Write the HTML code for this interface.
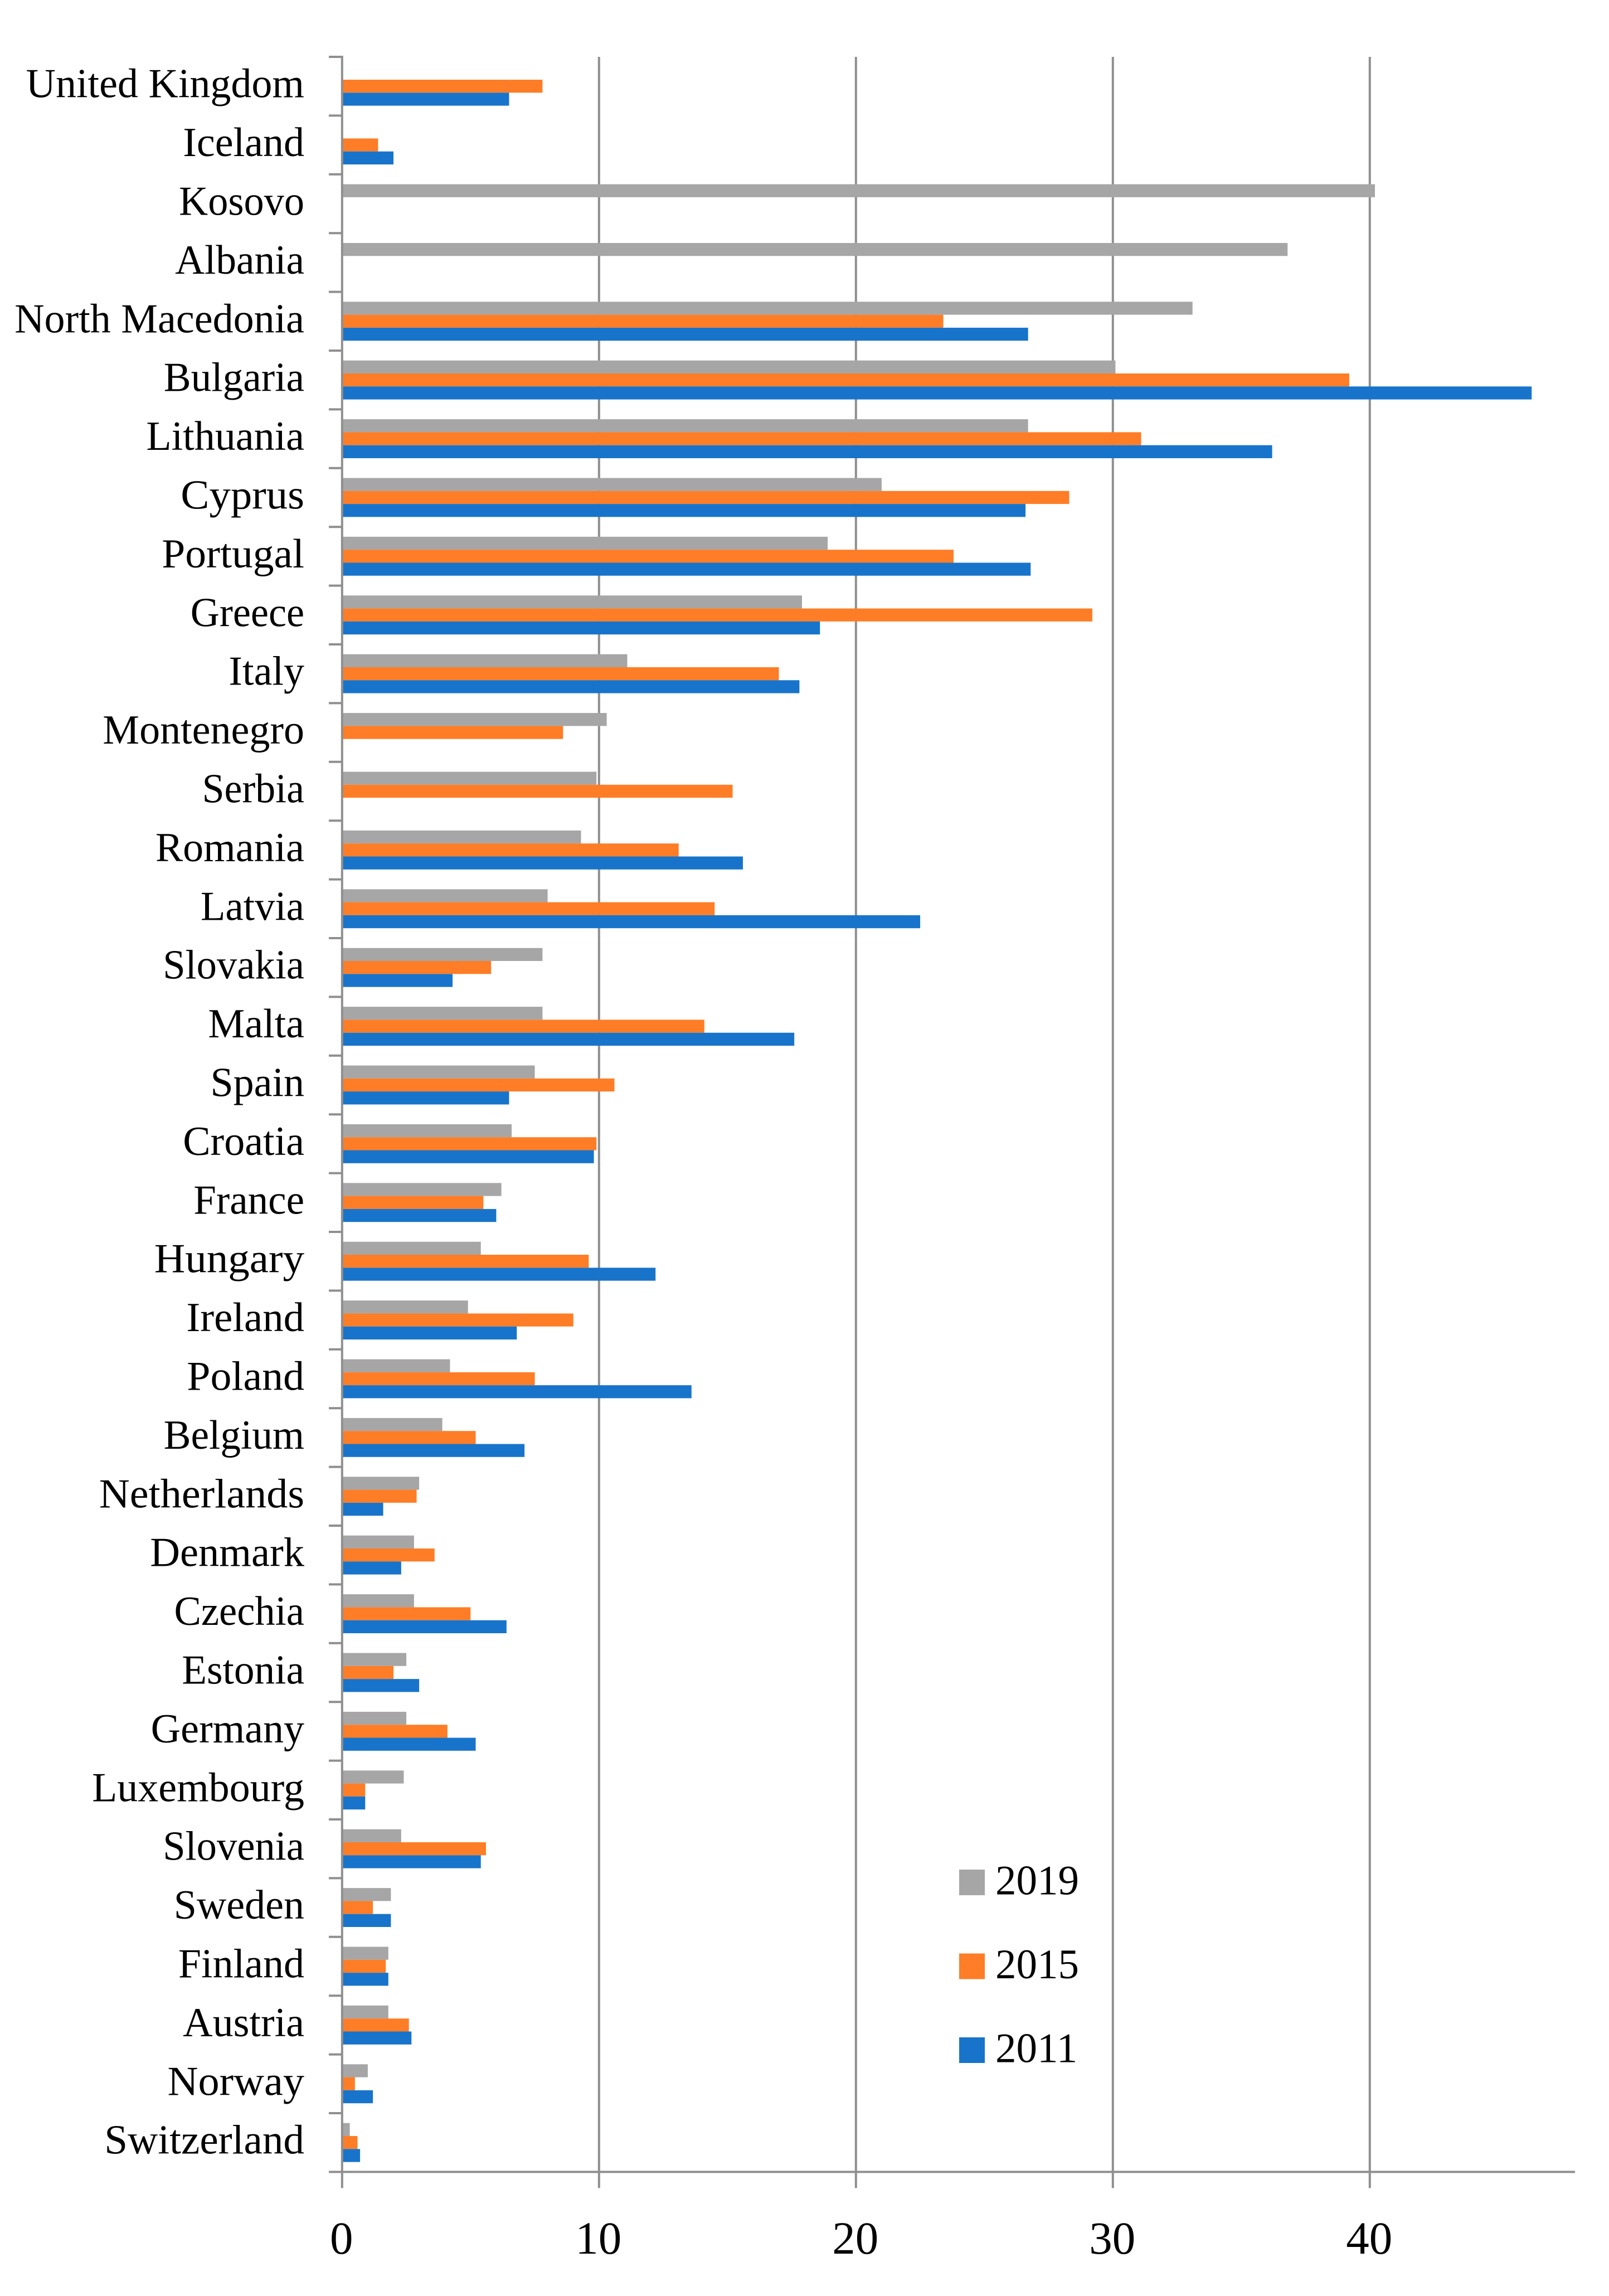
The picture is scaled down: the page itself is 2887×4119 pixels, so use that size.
<!DOCTYPE html>
<html lang="en">
<head>
<meta charset="utf-8">
<title>Country bar chart 2011, 2015, 2019</title>
<style>
html,body{margin:0;padding:0;background:#fff;}
svg{display:block;}
text{font-family:"Liberation Serif",serif;fill:#000;}
</style>
</head>
<body>
<svg id="chart" xmlns="http://www.w3.org/2000/svg" width="2887" height="4119" viewBox="0 0 2887 4119">
<rect x="0" y="0" width="2887" height="4119" fill="#ffffff"/>
<g id="grid"></g>
<g id="bars"></g>
<g id="axes"></g>
<g id="labels"></g>
<g id="xlabels"></g>
<g id="legend"></g>
</svg>
<script>
const categories = ["United Kingdom","Iceland","Kosovo","Albania","North Macedonia","Bulgaria","Lithuania","Cyprus","Portugal","Greece","Italy","Montenegro","Serbia","Romania","Latvia","Slovakia","Malta","Spain","Croatia","France","Hungary","Ireland","Poland","Belgium","Netherlands","Denmark","Czechia","Estonia","Germany","Luxembourg","Slovenia","Sweden","Finland","Austria","Norway","Switzerland"];
const values2019 = [null,null,40.2,36.8,33.1,30.1,26.7,21.0,18.9,17.9,11.1,10.3,9.9,9.3,8.0,7.8,7.8,7.5,6.6,6.2,5.4,4.9,4.2,3.9,3.0,2.8,2.8,2.5,2.5,2.4,2.3,1.9,1.8,1.8,1.0,0.3];
const values2015 = [7.8,1.4,null,null,23.4,39.2,31.1,28.3,23.8,29.2,17.0,8.6,15.2,13.1,14.5,5.8,14.1,10.6,9.9,5.5,9.6,9.0,7.5,5.2,2.9,3.6,5.0,2.0,4.1,0.9,5.6,1.2,1.7,2.6,0.5,0.6];
const values2011 = [6.5,2.0,null,null,26.7,46.3,36.2,26.6,26.8,18.6,17.8,null,null,15.6,22.5,4.3,17.6,6.5,9.8,6.0,12.2,6.8,13.6,7.1,1.6,2.3,6.4,3.0,5.2,0.9,5.4,1.9,1.8,2.7,1.2,0.7];
const seriesNames = ["2019","2015","2011"];
const seriesColors = ["#A6A6A6","#FE7D26","#1874CA"];
const tickLabels = [0,10,20,30,40];

const NS = "http://www.w3.org/2000/svg";
const X0 = 613.8, UNIT = 46.1, PLOT_TOP = 102, BAND = 105.4, PLOT_RIGHT = 2826;
const PLOT_BOTTOM = PLOT_TOP + BAND * categories.length;
const BAR_H = 23.3, BAR_PAD = 17.7;
const AXIS_COLOR = "#8F8F8F";
const xScale = v => X0 + v * UNIT;
const bandTop = i => PLOT_TOP + i * BAND;

// Font-substitution fit: horizontal stretch per label so widths match the original typeface.
const labelFit = {"Kosovo":.977,"Albania":.99,"Bulgaria":.99,"Cyprus":1.037,"Portugal":1.02,"Greece":.975,"Serbia":.97,"Latvia":.985,"Slovakia":.98,"France":.987,"Hungary":1.04,"Ireland":1.01,"Poland":1.025,"Belgium":.99,"Netherlands":1.03,"Denmark":1.005,"Czechia":.98,"Estonia":.99,"Slovenia":.98,"Norway":1.03,"Switzerland":1.015};

function make(tag, attrs, parent) {
  const el = document.createElementNS(NS, tag);
  for (const k in attrs) el.setAttribute(k, attrs[k]);
  parent.appendChild(el);
  return el;
}

const grid = document.getElementById("grid");
tickLabels.forEach(t => {
  if (t === 0) return;
  const line = make("line", {x1:xScale(t), x2:xScale(t), y1:PLOT_TOP, y2:PLOT_BOTTOM + 29, stroke:AXIS_COLOR, "stroke-width":4}, grid);
  
  
});

const bars = document.getElementById("bars");
const allSeries = [values2019, values2015, values2011];
allSeries.forEach((vals, s) => {
  vals.forEach((v, i) => {
    if (v === null) return;
    const r = make("rect", {x:X0, y:bandTop(i) + BAR_PAD + s * BAR_H, width:xScale(v) - X0, height:BAR_H, fill:seriesColors[s]}, bars);
    
    
  });
});

const axes = document.getElementById("axes");
const yAxis = make("line", {x1:X0, x2:X0, y1:PLOT_TOP - 2, y2:PLOT_BOTTOM + 29, stroke:AXIS_COLOR, "stroke-width":4}, axes);


const xAxis = make("line", {x1:X0, x2:PLOT_RIGHT, y1:PLOT_BOTTOM, y2:PLOT_BOTTOM, stroke:AXIS_COLOR, "stroke-width":4}, axes);


for (let i = 0; i <= categories.length; i++) {
  const tick = make("line", {x1:590, x2:X0, y1:bandTop(i), y2:bandTop(i), stroke:AXIS_COLOR, "stroke-width":4}, axes);
  
  
}

const labels = document.getElementById("labels");
categories.forEach((c, i) => {
  const t = make("text", {x:546, y:bandTop(i) + BAND / 2 + 20, "text-anchor":"end", "font-size":74}, labels);
  t.textContent = c;
  
  
  const fit = labelFit[c];
  if (fit) {
    t.setAttribute("textLength", t.getComputedTextLength() * fit);
    t.setAttribute("lengthAdjust", "spacingAndGlyphs");
  }
});

const xlabels = document.getElementById("xlabels");
tickLabels.forEach(v => {
  const t = make("text", {x:xScale(v) - 1, y:4043, "text-anchor":"middle", "font-size":83}, xlabels);
  t.textContent = v;
  
  
});

const legend = document.getElementById("legend");
seriesNames.forEach((name, s) => {
  const y = 3354 + s * 150.5;
  const sw = make("rect", {x:1721, y:y, width:46, height:46, fill:seriesColors[s]}, legend);
  
  
  const t = make("text", {x:1786, y:y + 44.5, "font-size":75}, legend);
  t.textContent = name;
  
  
});
</script>
</body>
</html>
